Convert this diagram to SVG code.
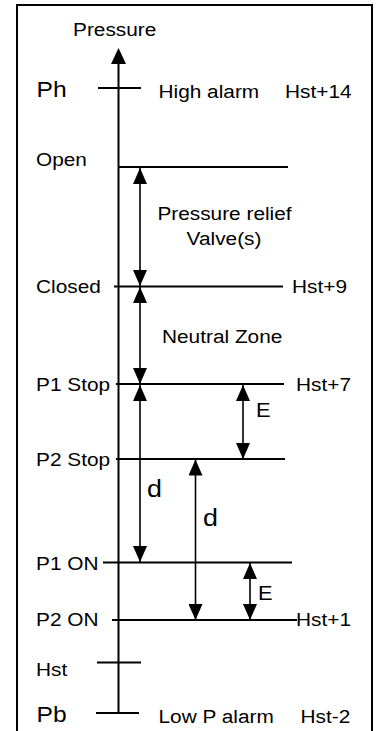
<svg xmlns="http://www.w3.org/2000/svg" width="379" height="731" viewBox="0 0 379 731">
<style>
text{font-family:"Liberation Sans",Arial,sans-serif;fill:#000}
.t{font-size:18.6px}
.b{font-size:22px}
.d{font-size:24px}
.e{font-size:19.5px}
.lv{stroke:#000;stroke-width:2;fill:none}
.ar{stroke:#000;stroke-width:1.6;fill:none;marker-start:url(#ah);marker-end:url(#ah)}
</style>
<defs>
<marker id="ah" markerUnits="userSpaceOnUse" markerWidth="16" markerHeight="14" refX="16" refY="7" orient="auto-start-reverse" viewBox="0 0 16 14">
<path d="M0,0 L16,7 L0,14 Z" fill="#000"/>
</marker>
</defs>
<rect x="17" y="5" width="355" height="745" fill="#fff" stroke="#000" stroke-width="2"/>

<g id="axis">
<line x1="118.5" y1="713" x2="118.5" y2="60" stroke="#000" stroke-width="2"/>
<path d="M111,64 L118.5,48 L126,64 Z" fill="#000"/>
<text class="t" transform="translate(73,35.7) scale(1.12,1)">Pressure</text>
</g>

<g id="ph">
<line class="lv" x1="98" y1="88" x2="141" y2="88"/>
<text class="b" transform="translate(36.5,97) scale(1.12,1)">Ph</text>
<text class="t" transform="translate(158.5,97.7) scale(1.12,1)">High alarm</text>
<text class="t" transform="translate(285,97.7) scale(1.12,1)">Hst+14</text>
</g>

<g id="open">
<line class="lv" x1="118" y1="167" x2="288" y2="167"/>
<text class="t" transform="translate(36,166) scale(1.12,1)">Open</text>
</g>

<g id="relief">
<text class="t" text-anchor="middle" transform="translate(224.5,220) scale(1.12,1)">Pressure relief</text>
<text class="t" text-anchor="middle" transform="translate(224,245) scale(1.12,1)">Valve(s)</text>
</g>

<g id="closed">
<line class="lv" x1="114" y1="286.5" x2="283" y2="286.5"/>
<text class="t" transform="translate(36,293) scale(1.12,1)">Closed</text>
<text class="t" transform="translate(292,293) scale(1.12,1)">Hst+9</text>
</g>

<g id="neutral">
<text class="t" transform="translate(162,343.3) scale(1.12,1)">Neutral Zone</text>
</g>

<g id="p1stop">
<line class="lv" x1="116" y1="384" x2="284" y2="384"/>
<text class="t" transform="translate(36,391) scale(1.12,1)">P1 Stop</text>
<text class="t" transform="translate(296,391) scale(1.12,1)">Hst+7</text>
</g>

<g id="p2stop">
<line class="lv" x1="116" y1="459" x2="285" y2="459"/>
<text class="t" transform="translate(36,466) scale(1.12,1)">P2 Stop</text>
</g>

<g id="p1on">
<line class="lv" x1="103" y1="562.5" x2="292" y2="562.5"/>
<text class="t" transform="translate(36,569.5) scale(1.12,1)">P1 ON</text>
</g>

<g id="p2on">
<line class="lv" x1="112" y1="620" x2="297" y2="620"/>
<text class="t" transform="translate(36,626) scale(1.12,1)">P2 ON</text>
<text class="t" transform="translate(296,626) scale(1.12,1)">Hst+1</text>
</g>

<g id="hst">
<line class="lv" x1="97" y1="662.5" x2="141" y2="662.5"/>
<text class="t" transform="translate(36,676) scale(1.12,1)">Hst</text>
</g>

<g id="pb">
<line class="lv" x1="96" y1="713" x2="139" y2="713"/>
<text class="b" transform="translate(36.5,722) scale(1.12,1)">Pb</text>
<text class="t" transform="translate(158.5,723) scale(1.12,1)">Low P alarm</text>
<text class="t" transform="translate(300.5,723) scale(1.12,1)">Hst-2</text>
</g>

<g id="connectors">
<line class="ar" x1="140" y1="168" x2="140" y2="286"/>
<line class="ar" x1="140" y1="287" x2="140" y2="384"/>
<line class="ar" x1="243" y1="385" x2="243" y2="459"/>
<line class="ar" x1="140" y1="385" x2="140" y2="562"/>
<line class="ar" x1="195.5" y1="459.5" x2="195.5" y2="620"/>
<line class="ar" x1="250" y1="563" x2="250" y2="620"/>
<text class="e" transform="translate(256,417) scale(1.12,1)">E</text>
<text class="e" transform="translate(258,600) scale(1.12,1)">E</text>
<text class="d" transform="translate(147,497) scale(1.12,1)">d</text>
<text class="d" transform="translate(203,526) scale(1.12,1)">d</text>
</g>
</svg>
